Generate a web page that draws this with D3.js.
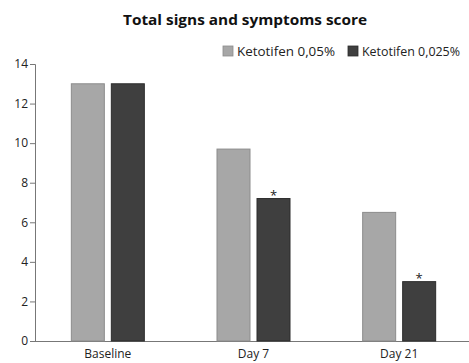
<!DOCTYPE html>
<html>
<head>
<meta charset="utf-8">
<script src="https://cdn.jsdelivr.net/npm/d3@7"></script>
<style>
  html, body { margin: 0; padding: 0; background: #fff; }
  svg { display: block; }
  text { font-family: "Open Sans", "Noto Sans", sans-serif; }
</style>
</head>
<body>
<svg id="chart" width="469" height="363"></svg>
<script>
// Scores per visit for each ketotifen concentration
const categories = ["Baseline", "Day 7", "Day 21"];
const seriesNames = ["Ketotifen 0,05%", "Ketotifen 0,025%"];
const values005 = [13, 9.7, 6.5];
const values0025 = [13, 7.2, 3.0];
const significant0025 = [false, true, true];
const yTicks = [0, 2, 4, 6, 8, 10, 12, 14];

const colors = ["#a7a7a7", "#3f3f3f"];
const strokes = ["#8c8c8c", "#2c2c2c"];

const svg = d3.select("#chart");

const x = d3.scaleBand().domain(categories).range([35, 472]).padding(0);
const y = d3.scaleLinear().domain([0, 14]).range([341, 64]);

const barW = 33, gap = 7;

// Title
svg.append("text")
  .attr("x", 245).attr("y", 25)
  .attr("text-anchor", "middle")
  .attr("font-size", 15).attr("font-weight", "bold")
  .attr("fill", "#111")
  .attr("textLength", 244).attr("lengthAdjust", "spacingAndGlyphs")
  .text("Total signs and symptoms score");

// Legend
const legend = svg.append("g");
const legendX = [223, 348];
seriesNames.forEach((name, i) => {
  legend.append("rect")
    .attr("x", legendX[i]).attr("y", 46)
    .attr("width", 10).attr("height", 10)
    .attr("fill", colors[i]).attr("stroke", strokes[i]).attr("stroke-width", 0.8);
  legend.append("text")
    .attr("x", legendX[i] + 14).attr("y", 55.5)
    .attr("font-size", 12).attr("fill", "#222")
    .attr("textLength", 98).attr("lengthAdjust", "spacingAndGlyphs")
    .text(name);
});

// Y axis
const yAxis = d3.axisLeft(y).tickValues(yTicks).tickSize(5).tickPadding(2);
const gy = svg.append("g").attr("transform", "translate(35,0)").call(yAxis);
gy.select(".domain").attr("stroke", "#777").attr("d", "M-5,64.5H0.5V341");
gy.selectAll(".tick line").attr("stroke", "#777");
gy.selectAll(".tick text").attr("font-size", 12).attr("fill", "#222")
  .attr("font-family", "\"Open Sans\", sans-serif");

// X axis baseline
const xAxis = d3.axisBottom(x).tickSize(0).tickPadding(8);
const gx = svg.append("g").attr("transform", "translate(0,341)").call(xAxis);
gx.select(".domain").attr("stroke", "#777").attr("d", "M35,0.5H469");
gx.selectAll(".tick text").attr("font-size", 12).attr("fill", "#222")
  .attr("font-family", "\"Open Sans\", sans-serif");

// Bars
const seriesVals = [values005, values0025];
seriesVals.forEach((vals, s) => {
  svg.append("g").selectAll("rect")
    .data(categories.map((c, i) => ({ c, v: vals[i] })))
    .join("rect")
    .attr("x", d => x(d.c) + x.bandwidth() / 2 - gap / 2 - barW + s * (barW + gap))
    .attr("y", d => y(d.v))
    .attr("width", barW)
    .attr("height", d => y(0) - y(d.v))
    .attr("fill", colors[s])
    .attr("stroke", strokes[s])
    .attr("stroke-width", 1);
});

// Significance markers
svg.append("g").selectAll("text")
  .data(categories.map((c, i) => ({ c, v: values0025[i], sig: significant0025[i] })).filter(d => d.sig))
  .join("text")
  .attr("x", d => x(d.c) + x.bandwidth() / 2 + gap / 2 + barW / 2)
  .attr("y", d => y(d.v) + 1)
  .attr("text-anchor", "middle")
  .attr("font-size", 13).attr("fill", "#222")
  .text("*");
</script>
</body>
</html>
